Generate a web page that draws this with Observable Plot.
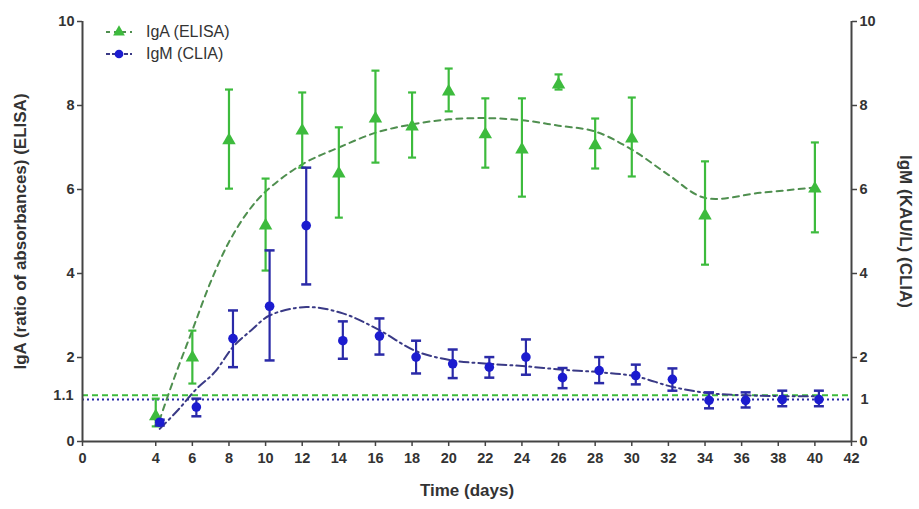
<!DOCTYPE html>
<html>
<head>
<meta charset="utf-8">
<script src="https://cdn.jsdelivr.net/npm/d3@7"></script>
<script src="https://cdn.jsdelivr.net/npm/@observablehq/plot@0.6"></script>
<style>
  html, body { margin: 0; padding: 0; background: #fff; }
  #wrap { position: relative; width: 919px; height: 509px; font-family: "Liberation Sans", Arial, sans-serif; }
  #legend { position: absolute; left: 104px; top: 21px; font-size: 16px; color: #333; }
  #legend .row { display: flex; align-items: center; height: 22px; }
  #legend svg { margin-right: 12px; }
</style>
</head>
<body>
<div id="wrap">
  <div id="chart"></div>
  <div id="legend"></div>
</div>
<script>
// ---- data ----
const xTicks = [0, 4, 6, 8, 10, 12, 14, 16, 18, 20, 22, 24, 26, 28, 30, 32, 34, 36, 38, 40, 42];
const yTicksLeft = [0, 2, 4, 6, 8, 10];
const yTicksRight = [0, 2, 4, 6, 8, 10];

const igaDays = [4, 6, 8, 10, 12, 14, 16, 18, 20, 22, 24, 26, 28, 30, 34, 40];
const igaMean = [0.6, 2.0, 7.17, 5.14, 7.4, 6.38, 7.69, 7.5, 8.33, 7.31, 6.95, 8.5, 7.05, 7.21, 5.38, 6.02];
const igaLow  = [0.36, 1.38, 6.02, 4.07, 6.52, 5.33, 6.64, 6.76, 7.86, 6.52, 5.83, 8.38, 6.5, 6.31, 4.21, 4.98];
const igaHigh = [1.02, 2.64, 8.38, 6.26, 8.31, 7.48, 8.83, 8.31, 8.88, 8.17, 8.17, 8.74, 7.69, 8.19, 6.67, 7.12];

const igmDays = [4, 6, 8, 10, 12, 14, 16, 18, 20, 22, 24, 26, 28, 30, 32, 34, 36, 38, 40];
const igmMean = [0.46, 0.82, 2.45, 3.22, 5.14, 2.4, 2.51, 2.01, 1.85, 1.77, 2.01, 1.52, 1.69, 1.57, 1.48, 0.98, 0.98, 1.0, 1.0];
const igmLow  = [0.38, 0.6, 1.77, 1.93, 3.74, 1.97, 2.07, 1.62, 1.51, 1.52, 1.59, 1.27, 1.39, 1.36, 1.21, 0.79, 0.81, 0.84, 0.84];
const igmHigh = [0.52, 1.02, 3.12, 4.55, 6.52, 2.86, 2.93, 2.4, 2.19, 2.01, 2.43, 1.75, 2.01, 1.83, 1.74, 1.17, 1.17, 1.21, 1.21];

// fitted trend curves
const igaFitDays = [4.2, 5, 6, 7, 8, 9, 10, 12, 14, 16, 18, 20, 22, 24, 26, 28, 30, 32, 34, 37, 40];
const igaFitVals = [0.5, 1.5, 2.65, 3.8, 4.75, 5.45, 5.95, 6.6, 7.0, 7.35, 7.55, 7.67, 7.7, 7.65, 7.52, 7.38, 6.95, 6.35, 5.8, 5.92, 6.05];
const igmFitDays = [4, 5, 6, 7, 8, 9, 10, 12, 14, 16, 18, 20, 22, 24, 26, 28, 30, 32, 34, 36, 38, 40];
const igmFitVals = [0.3, 0.75, 1.25, 1.65, 2.25, 2.65, 3.0, 3.2, 3.05, 2.65, 2.15, 1.93, 1.85, 1.79, 1.71, 1.65, 1.55, 1.3, 1.15, 1.1, 1.08, 1.08];

const igaCutoff = 1.1;
const igmCutoff = 1.0;

const seriesNames = ["IgA (ELISA)", "IgM (CLIA)"];
const xLabel = "Time (days)";
const yLabelLeft = "IgA (ratio of absorbances) (ELISA)";
const yLabelRight = "IgM (KAU/L) (CLIA)";

// ---- tables ----
const iga = igaDays.map((d, i) => ({day: d, mean: igaMean[i], lo: igaLow[i], hi: igaHigh[i]}));
const igm = igmDays.map((d, i) => ({day: d, mean: igmMean[i], lo: igmLow[i], hi: igmHigh[i]}));
const igaFit = igaFitDays.map((d, i) => ({day: d, v: igaFitVals[i]}));
const igmFit = igmFitDays.map((d, i) => ({day: d, v: igmFitVals[i]}));

const GREEN = "#3dbb3d";
const GREEN_DARK = "#4f8f4f";
const BLUE = "#1c1ccf";
const BLUE_BAR = "#2a2aa8";
const BLUE_DARK = "#3a3a86";
const AXIS = "#444";
const FS = 14.5;

const cap = {draw(ctx, size) { const w = Math.sqrt(size / Math.PI); ctx.moveTo(-w, 0); ctx.lineTo(w, 0); }};
const bdx = 4;

const chart = Plot.plot({
  width: 919,
  height: 509,
  marginLeft: 82,
  marginRight: 68,
  marginTop: 21,
  marginBottom: 68,
  style: {fontFamily: "'Liberation Sans', Arial, sans-serif", fontSize: "15px", fontWeight: "bold", color: "#333", background: "#fff"},
  x: {domain: [0, 42]},
  y: {domain: [0, 10]},
  marks: [
    // cutoff lines
    Plot.ruleY([igaCutoff], {stroke: GREEN, strokeWidth: 2, strokeDasharray: "6,4"}),
    Plot.ruleY([igmCutoff], {stroke: BLUE_BAR, strokeWidth: 2, strokeDasharray: "2,3"}),
    // trend curves
    Plot.line(igaFit, {x: "day", y: "v", curve: "catmull-rom", stroke: GREEN_DARK, strokeWidth: 2, strokeDasharray: "6,5"}),
    Plot.line(igmFit, {x: "day", y: "v", curve: "catmull-rom", stroke: BLUE_DARK, strokeWidth: 2, strokeDasharray: "9,4,2,4", dx: bdx}),
    // error bars
    Plot.ruleX(iga, {x: "day", y1: "lo", y2: "hi", stroke: GREEN, strokeWidth: 2.2}),
    Plot.dot(iga, {x: "day", y: "lo", symbol: cap, r: 4, stroke: GREEN, fill: "none", strokeWidth: 2.2}),
    Plot.dot(iga, {x: "day", y: "hi", symbol: cap, r: 4, stroke: GREEN, fill: "none", strokeWidth: 2.2}),
    Plot.ruleX(igm, {x: "day", y1: "lo", y2: "hi", stroke: BLUE_BAR, strokeWidth: 2.2, dx: bdx}),
    Plot.dot(igm, {x: "day", y: "lo", symbol: cap, r: 5, stroke: BLUE_BAR, fill: "none", strokeWidth: 2.5, dx: bdx}),
    Plot.dot(igm, {x: "day", y: "hi", symbol: cap, r: 5, stroke: BLUE_BAR, fill: "none", strokeWidth: 2.5, dx: bdx}),
    // points
    Plot.dot(iga, {x: "day", y: "mean", symbol: "triangle", r: 5, fill: GREEN, stroke: "none"}),
    Plot.dot(igm, {x: "day", y: "mean", symbol: "circle", r: 4.8, fill: BLUE, stroke: "none", dx: bdx}),
    // axes
    Plot.axisX({ticks: xTicks, tickFormat: d => d, tickSize: 5, tickPadding: 6, label: null, stroke: AXIS, strokeWidth: 1.5, fontSize: FS, fontWeight: "bold", fill: "#333"}),
    Plot.axisY({anchor: "left", ticks: yTicksLeft, tickFormat: d => d, tickSize: 5, tickPadding: 3, label: null, stroke: AXIS, strokeWidth: 1.5, fontSize: FS, fontWeight: "bold", fill: "#333"}),
    Plot.axisY({anchor: "left", ticks: [igaCutoff], tickFormat: d => d, tickSize: 0, tickPadding: 9, label: null, fontSize: FS, fontWeight: "bold", fill: "#333"}),
    Plot.axisY({anchor: "right", ticks: yTicksRight, tickFormat: d => d, tickSize: 5, tickPadding: 3, label: null, stroke: AXIS, strokeWidth: 1.5, fontSize: FS, fontWeight: "bold", fill: "#333"}),
    Plot.axisY({anchor: "right", ticks: [igmCutoff], tickFormat: d => d, tickSize: 0, tickPadding: 9, label: null, fontSize: FS, fontWeight: "bold", fill: "#333"}),
    Plot.ruleY([0], {stroke: AXIS, strokeWidth: 2}),
    Plot.ruleX([0], {stroke: AXIS, strokeWidth: 2}),
    Plot.ruleX([42], {stroke: AXIS, strokeWidth: 2}),
    // axis titles
    Plot.text([xLabel], {text: d => d, frameAnchor: "bottom", textAnchor: "middle", dy: 54, fontSize: 17, fontWeight: "bold", fill: "#333"}),
    Plot.text([yLabelLeft], {text: d => d, frameAnchor: "left", textAnchor: "middle", dx: -62, rotate: -90, fontSize: 17, fontWeight: "bold", fill: "#333"}),
    Plot.text([yLabelRight], {text: d => d, frameAnchor: "right", textAnchor: "middle", dx: 54, rotate: 90, fontSize: 17, fontWeight: "bold", fill: "#333"})
  ]
});
document.getElementById("chart").appendChild(chart);

// ---- legend ----
const legendItems = [
  {name: seriesNames[0], color: GREEN, line: GREEN_DARK, dash: "4,4", symbol: d3.symbolTriangle},
  {name: seriesNames[1], color: BLUE, line: BLUE_DARK, dash: "4,2", symbol: d3.symbolCircle}
];
const legend = d3.select("#legend");
for (const it of legendItems) {
  const row = legend.append("div").attr("class", "row");
  const s = row.append("svg").attr("width", 30).attr("height", 14);
  s.append("line").attr("x1", 2).attr("x2", 28).attr("y1", 7).attr("y2", 7)
    .attr("stroke", it.line).attr("stroke-width", 2).attr("stroke-dasharray", it.dash);
  s.append("path").attr("d", d3.symbol(it.symbol, 60)()).attr("transform", "translate(15,7)").attr("fill", it.color);
  row.append("span").text(it.name);
}
</script>
</body>
</html>
